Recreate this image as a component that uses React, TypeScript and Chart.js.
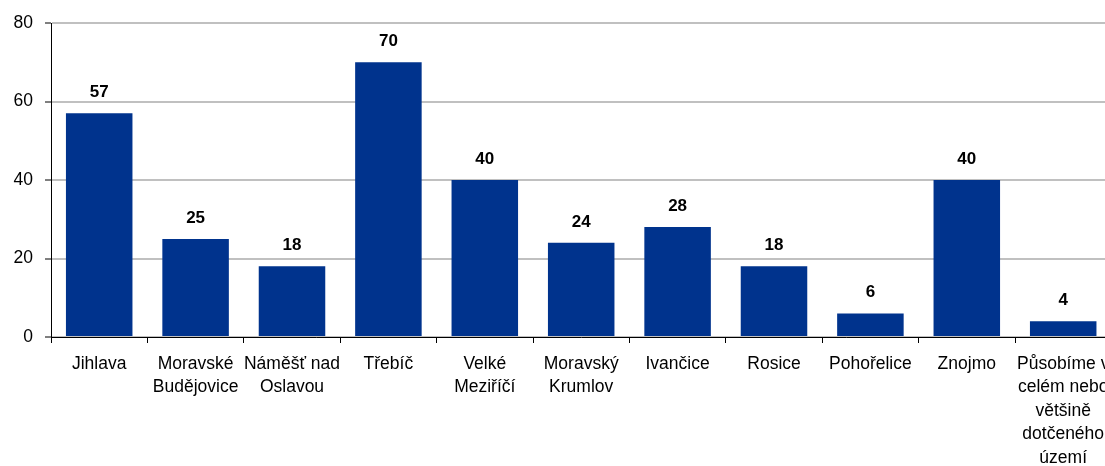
import React, { useEffect, useRef } from "react";
import { Chart, registerables } from "chart.js";

Chart.register(...registerables);

const categories: (string | string[])[] = [
  "Jihlava",
  ["Moravské", "Budějovice"],
  ["Náměšť nad", "Oslavou"],
  "Třebíč",
  ["Velké", "Meziříčí"],
  ["Moravský", "Krumlov"],
  "Ivančice",
  "Rosice",
  "Pohořelice",
  "Znojmo",
  ["Působíme v", "celém nebo", "většině", "dotčeného", "území"],
];
const values: number[] = [57, 25, 18, 70, 40, 24, 28, 18, 6, 40, 4];
const yTicks: number[] = [0, 20, 40, 60, 80];

const FONT = "'Liberation Sans', Arial, sans-serif";
const BAR = "#00338D";

const valueLabels = {
  id: "valueLabels",
  afterDatasetsDraw(chart: any) {
    const ctx = chart.ctx;
    const meta = chart.getDatasetMeta(0);
    ctx.save();
    ctx.font = `bold 17px ${FONT}`;
    ctx.fillStyle = "#000";
    ctx.textAlign = "center";
    ctx.textBaseline = "alphabetic";
    meta.data.forEach((el: any, i: number) => {
      ctx.fillText(String(chart.data.datasets[0].data[i]), el.x, el.y - 16);
    });
    ctx.restore();
  },
};

export default function App() {
  const ref = useRef<HTMLCanvasElement | null>(null);
  useEffect(() => {
    if (!ref.current) return;
    const chart = new Chart(ref.current, {
      type: "bar",
      data: {
        labels: categories,
        datasets: [
          {
            data: values,
            backgroundColor: BAR,
            borderWidth: 0,
            barPercentage: 0.69,
            categoryPercentage: 1,
          },
        ],
      },
      options: {
        animation: false,
        responsive: false,
        devicePixelRatio: 1,
        layout: { padding: { top: 23, right: 18.6, left: 0, bottom: 0 } },
        plugins: { legend: { display: false }, tooltip: { enabled: false } },
        scales: {
          x: {
            offset: true,
            grid: {
              display: true,
              offset: true,
              drawOnChartArea: false,
              drawTicks: true,
              tickLength: 6,
              tickColor: "#000",
              tickWidth: 1,
            },
            border: { display: true, color: "#000", width: 1 },
            ticks: {
              autoSkip: false,
              maxRotation: 0,
              minRotation: 0,
              padding: 9,
              color: "#000",
              font: { family: FONT, size: 17.5, lineHeight: 1.343 },
            },
            afterFit: (s: any) => {
              s.height = 129;
            },
          },
          y: {
            min: 0,
            max: 80,
            afterBuildTicks: (s: any) => {
              s.ticks = yTicks.map((v) => ({ value: v }));
            },
            grid: {
              color: "#c0c0c0",
              lineWidth: 2,
              tickLength: 6,
              tickColor: "#000",
              tickWidth: 1,
            },
            border: { display: true, color: "#000", width: 1 },
            ticks: {
              padding: 12,
              color: "#000",
              font: { family: FONT, size: 17.5 },
            },
            afterFit: (s: any) => {
              s.width = 51;
            },
          },
        },
      },
      plugins: [valueLabels],
    });
    return () => chart.destroy();
  }, []);
  return (
    <div
      style={{
        position: "fixed",
        left: 0,
        top: 0,
        width: 1105,
        height: 466,
        overflow: "hidden",
        background: "#fff",
      }}
    >
      <canvas ref={ref} width={1130} height={466} style={{ display: "block" }} />
    </div>
  );
}
